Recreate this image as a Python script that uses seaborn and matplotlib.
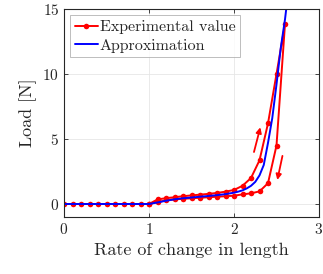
import numpy as np
import pandas as pd
import matplotlib
matplotlib.use("Agg")
import matplotlib.pyplot as plt
import seaborn as sns

# -------------------------------
# Data
# -------------------------------
# experimental: loading branch (0 -> 2.6) then unloading branch (2.6 -> 1.0)
exp_x_up = [0.0, 0.1, 0.2, 0.3, 0.4, 0.5, 0.6, 0.7, 0.8, 0.9, 1.0,
            1.1, 1.2, 1.3, 1.4, 1.5, 1.6, 1.7, 1.8, 1.9, 2.0,
            2.1, 2.2, 2.3, 2.4, 2.5, 2.6]
exp_y_up = [0, 0, 0, 0, 0, 0, 0, 0, 0, 0, 0,
            0.35, 0.45, 0.52, 0.60, 0.66, 0.72, 0.78, 0.85, 0.95, 1.08,
            1.40, 2.00, 3.36, 6.20, 10.0, 13.85]
exp_x_down = [2.5, 2.4, 2.3, 2.2, 2.1, 2.0, 1.9, 1.8, 1.7, 1.6,
              1.5, 1.4, 1.3, 1.2, 1.1, 1.0]
exp_y_down = [4.50, 1.60, 0.97, 0.82, 0.74, 0.64, 0.60, 0.56, 0.52, 0.48,
              0.44, 0.40, 0.35, 0.28, 0.15, 0.0]

approx_x = [0.0, 1.0, 1.1, 1.2, 1.3, 1.4, 1.5, 1.6, 1.7, 1.8, 1.9, 2.0,
            2.05, 2.1, 2.15, 2.2, 2.25, 2.3, 2.35, 2.4, 2.45, 2.5, 2.55,
            2.6, 2.62]
approx_y = [0, 0, 0.12, 0.25, 0.36, 0.44, 0.50, 0.56, 0.62, 0.68, 0.76, 0.87,
            0.95, 1.05, 1.20, 1.40, 1.70, 2.20, 3.00, 4.70, 6.60, 9.20, 12.0,
            14.2, 15.3]

exp_df = pd.DataFrame({"x": exp_x_up + exp_x_down, "y": exp_y_up + exp_y_down})
approx_df = pd.DataFrame({"x": approx_x, "y": approx_y})

# -------------------------------
# Style
# -------------------------------
sns.set_style("ticks")
plt.rcParams["font.family"] = ["cmr10", "DejaVu Serif"]
plt.rcParams["axes.formatter.use_mathtext"] = True
plt.rcParams["mathtext.fontset"] = "cm"

fig = plt.figure(figsize=(3.23, 2.74), dpi=100)
ax = fig.add_axes([64 / 323, 1 - 217 / 274, 255 / 323, 208 / 274])

sns.lineplot(data=exp_df, x="x", y="y", sort=False, estimator=None,
             color="#ff0000", marker="o", markersize=4, markeredgewidth=0,
             linewidth=1.4, label="Experimental value", ax=ax)
sns.lineplot(data=approx_df, x="x", y="y", sort=False, estimator=None,
             color="#0000ff", linewidth=1.4, label="Approximation", ax=ax)

# direction arrows
ax.annotate("", xy=(2.31, 5.9), xytext=(2.235, 4.0),
            arrowprops=dict(arrowstyle="-|>", color="#ff0000", lw=1.3,
                            mutation_scale=8, shrinkA=0, shrinkB=0))
ax.annotate("", xy=(2.51, 1.85), xytext=(2.57, 3.7),
            arrowprops=dict(arrowstyle="-|>", color="#ff0000", lw=1.3,
                            mutation_scale=8, shrinkA=0, shrinkB=0))

ax.set_xlim(0, 3)
ax.set_ylim(-1, 15)
ax.set_xticks([0, 1, 2, 3])
ax.set_yticks([0, 5, 10, 15])
ax.grid(True, color="#e6e6e6", linewidth=0.6)
ax.tick_params(direction="in", top=True, right=True, length=3,
               width=0.6, labelsize=11, colors="#262626")
for s in ax.spines.values():
    s.set_linewidth(0.8)
    s.set_color("#262626")

ax.set_xlabel("Rate of change in length", fontsize=13)
ax.set_ylabel("Load [N]", fontsize=13)

leg = ax.legend(loc="upper left", fontsize=11.5, frameon=True, fancybox=False,
                borderpad=0.3, handlelength=1.4, handletextpad=0.15,
                labelspacing=0.25, borderaxespad=0.4)
leg.get_frame().set_edgecolor("#a0a0a0")
leg.get_frame().set_linewidth(0.6)

fig.savefig("out.png", dpi=100)
